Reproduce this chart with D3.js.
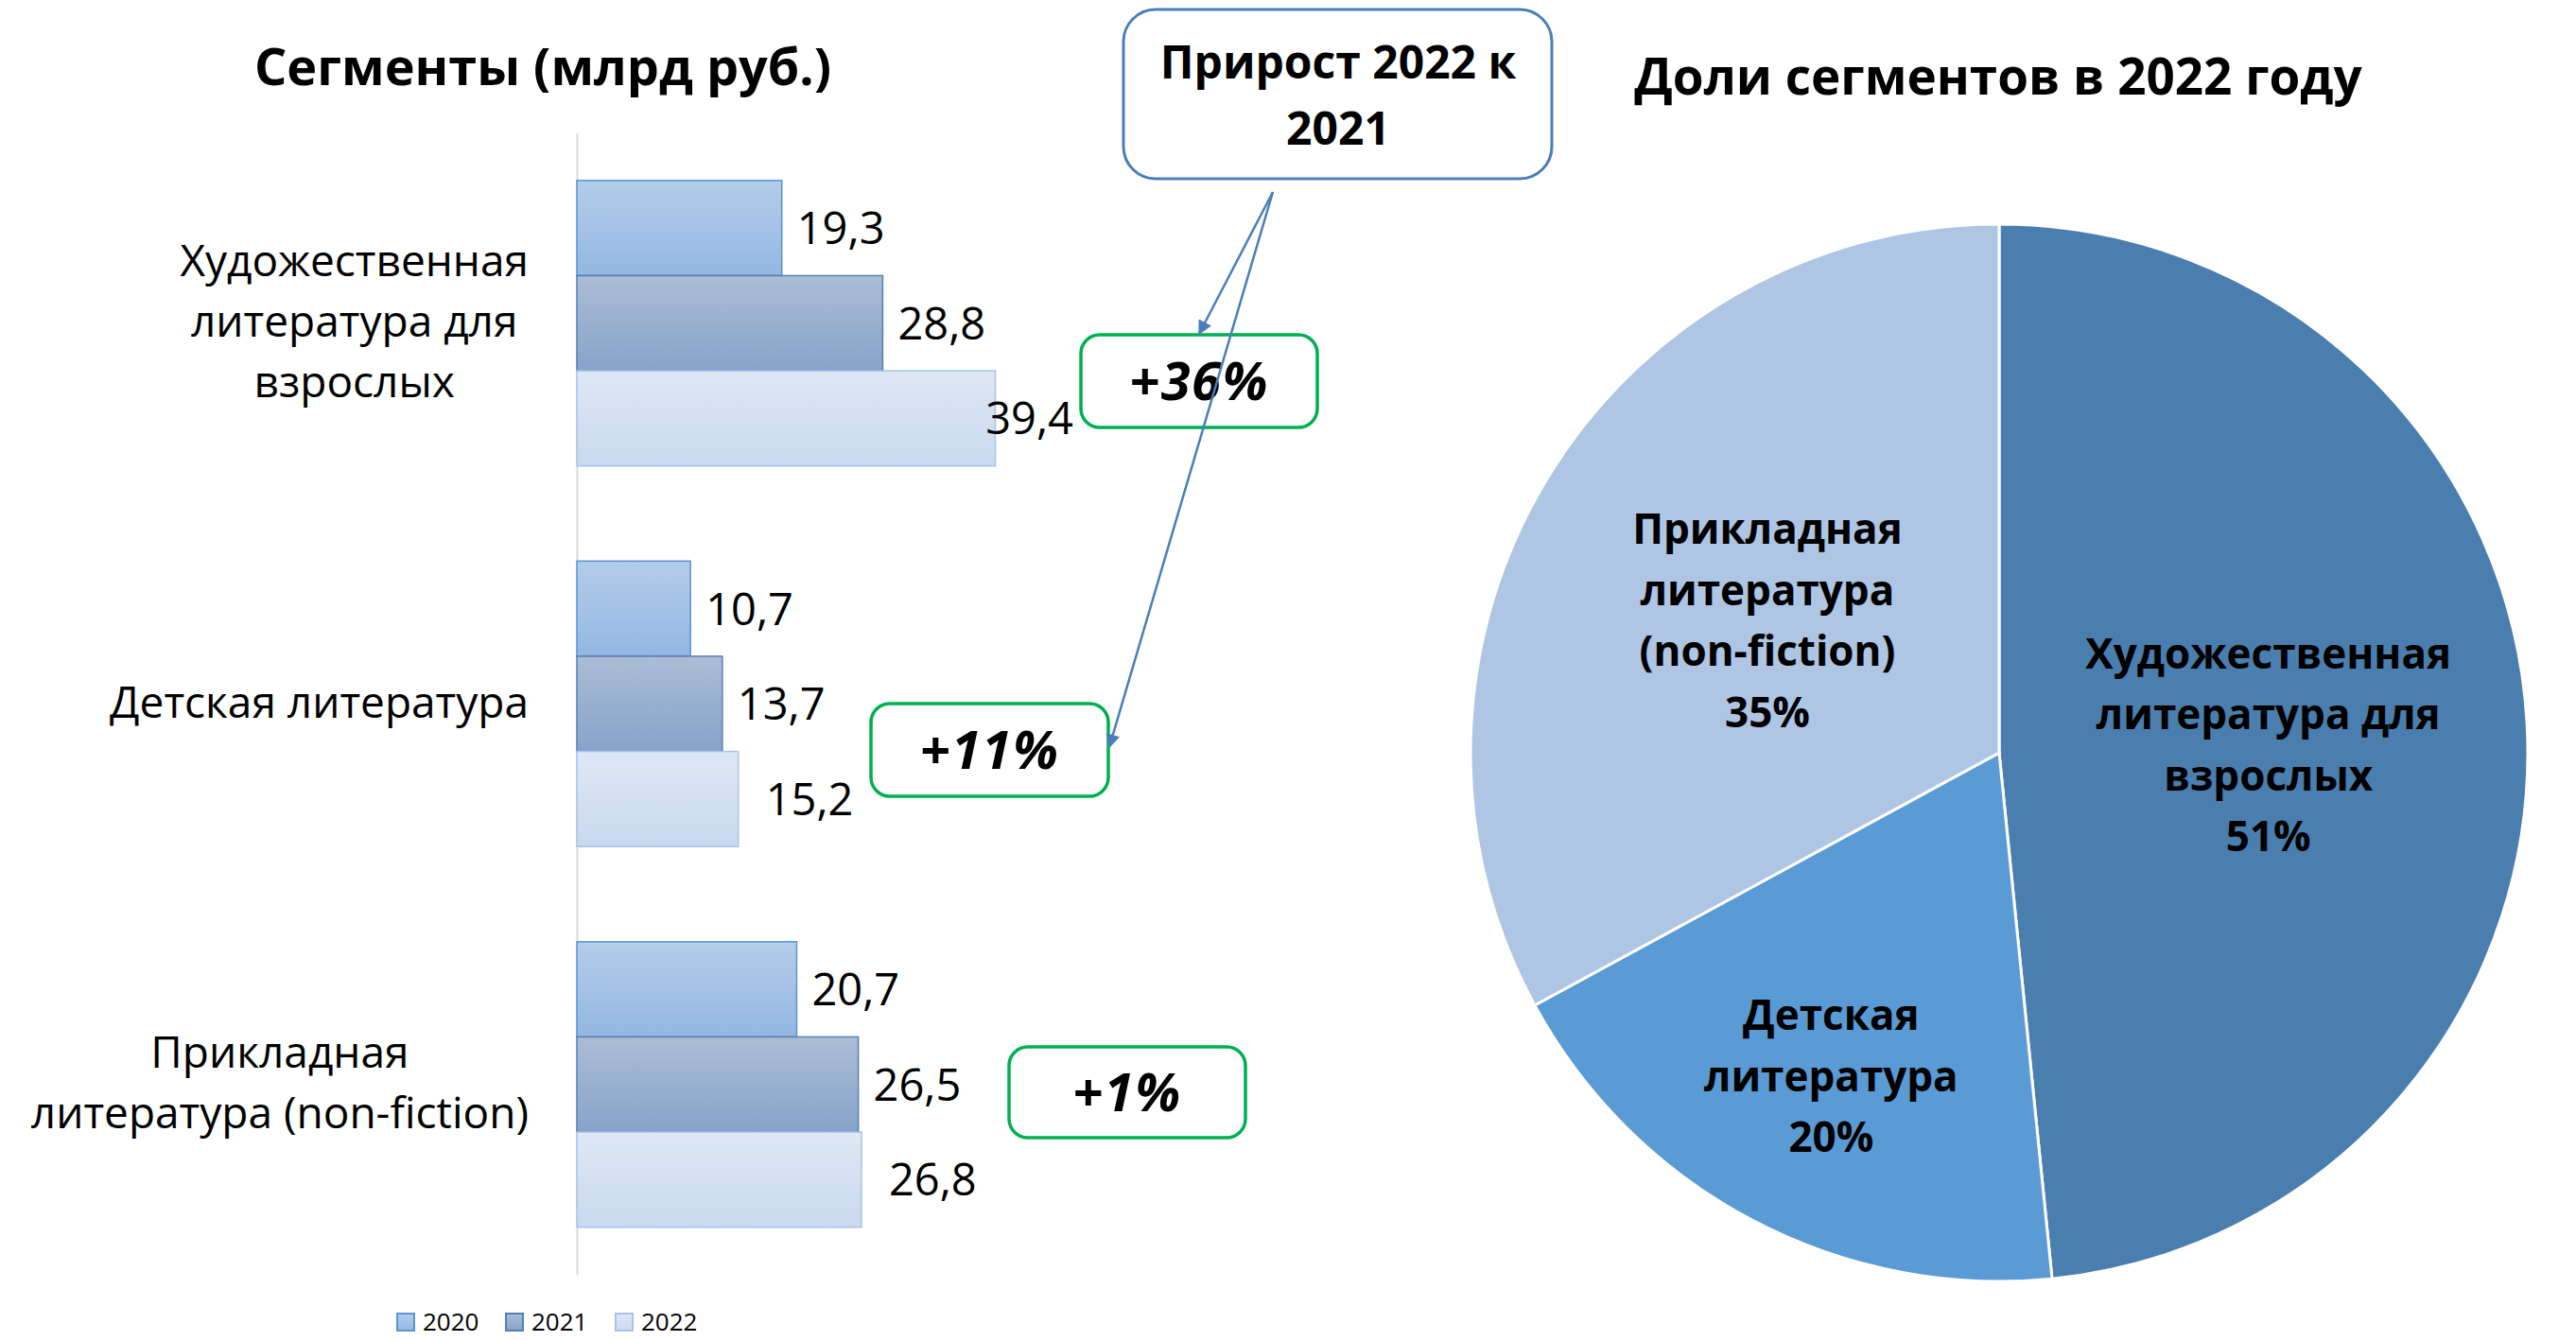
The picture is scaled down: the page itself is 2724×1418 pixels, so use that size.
<!DOCTYPE html>
<html>
<head>
<meta charset="utf-8">
<script src="https://cdn.jsdelivr.net/npm/d3@7"></script>
<style>
  html, body { margin: 0; padding: 0; background: #fff; }
  svg { display: block; }
</style>
</head>
<body>
<svg id="chart" width="2724" height="1418"></svg>
<script>
// ---------------- DATA ----------------
const categories = ["Художественная литература для взрослых", "Детская литература", "Прикладная литература (non-fiction)"];
const categoryLines = [["Художественная", "литература для", "взрослых"], ["Детская литература"], ["Прикладная", "литература (non-fiction)"]];
const years = ["2020", "2021", "2022"];
const values2020 = [19.3, 10.7, 20.7];
const values2021 = [28.8, 13.7, 26.5];
const values2022 = [39.4, 15.2, 26.8];
const growthLabels = ["+36%", "+11%", "+1%"];
const pieSegments = ["Художественная литература для взрослых", "Детская литература", "Прикладная литература (non-fiction)"];
const pieValues = [39.4, 15.2, 26.8];
const pieLabelLines = [["Художественная", "литература для", "взрослых"], ["Детская", "литература"], ["Прикладная", "литература", "(non-fiction)"]];
const pieShareLabels = ["51%", "20%", "35%"];
const barTitle = "Сегменты (млрд руб.)";
const pieTitle = "Доли сегментов в 2022 году";
const calloutLines = ["Прирост 2022 к", "2021"];

// ---------------- LAYOUT / STYLE ----------------
const FONT = "'Open Sans', 'Noto Sans', sans-serif";
const seriesValues = [values2020, values2021, values2022];
const seriesStyle = [
  { top: "#B3CDEA", bottom: "#93B7E2", stroke: "#5B93D3", labelGap: 16 },
  { top: "#ABBDD6", bottom: "#86A3C9", stroke: "#5680B4", labelGap: 16 },
  { top: "#DEE7F4", bottom: "#C9D9EF", stroke: "#A8C3E6", labelGap: 29 }
];
const pieColors = ["#4A7EAE", "#5B9BD5", "#AEC6E4"];

const svg = d3.select("#chart");
const defs = svg.append("defs");

seriesStyle.forEach((s, i) => {
  const g = defs.append("linearGradient").attr("id", "grad" + i)
    .attr("x1", 0).attr("y1", 0).attr("x2", 0).attr("y2", 1);
  g.append("stop").attr("offset", "0%").attr("stop-color", s.top);
  g.append("stop").attr("offset", "100%").attr("stop-color", s.bottom);
});

defs.append("marker").attr("id", "arrowHead")
  .attr("viewBox", "0 0 10 10").attr("refX", 9).attr("refY", 5)
  .attr("markerWidth", 6.5).attr("markerHeight", 6)
  .attr("markerUnits", "strokeWidth")
  .attr("orient", "auto")
  .append("path").attr("d", "M0,0 L10,5 L0,10 Z").attr("fill", "#4A7EBB");

// ---------------- BAR CHART ----------------
const x = d3.scaleLinear().domain([0, 40]).range([610, 610 + 40 * 11.23]);
const y = d3.scaleBand().domain(categories).range([140.5, 1348]).paddingInner(0.25).paddingOuter(0.125);
const ySub = d3.scaleBand().domain(years).range([0, y.bandwidth()]);

// axis line (category axis)
const yAxis = d3.axisLeft(y).tickSize(0).tickFormat("");
const axisG = svg.append("g").attr("transform", `translate(${x(0)},0)`).call(yAxis);
axisG.select(".domain").attr("stroke", "#D9D9D9").attr("stroke-width", 2);

// title
svg.append("text").attr("x", 574).attr("y", 90)
  .attr("text-anchor", "middle").attr("font-family", FONT).attr("font-weight", 700)
  .attr("font-size", 54).attr("fill", "#000").text(barTitle);

// growth annotation boxes (layout)
const growthBoxes = [
  { x: 1143, y: 354, w: 250, h: 98 },
  { x: 921, y: 744, w: 251, h: 98 },
  { x: 1067, y: 1107, w: 250, h: 96 }
];

const groups = svg.append("g").selectAll("g.cat").data(categories).join("g")
  .attr("class", "cat").attr("transform", d => `translate(0,${y(d)})`);

years.forEach((yr, si) => {
  groups.append("rect")
    .attr("x", x(0))
    .attr("y", ySub(yr))
    .attr("width", (d, ci) => x(seriesValues[si][ci]) - x(0))
    .attr("height", ySub.bandwidth())
    .attr("fill", `url(#grad${si})`)
    .attr("stroke", seriesStyle[si].stroke)
    .attr("stroke-width", 1.5);
  groups.append("text")
    .attr("y", ySub(yr) + ySub.bandwidth() / 2)
    .attr("dy", "0.36em")
    .attr("font-family", FONT).attr("font-size", 47).attr("fill", "#000")
    .text((d, ci) => String(seriesValues[si][ci]).replace(".", ","))
    .each(function (d, ci) {
      const w = this.getComputedTextLength();
      let lx = x(seriesValues[si][ci]) + seriesStyle[si].labelGap;
      const b = growthBoxes[ci];
      const top = y(d) + ySub(yr), bot = top + ySub.bandwidth();
      if (bot > b.y && top < b.y + b.h && lx + w > b.x - 6 && lx < b.x + b.w) {
        lx = b.x - 8 - w;
      }
      d3.select(this).attr("x", lx);
    });
});

// category labels (multi-line, centered block, right aligned)
const labelRight = 559;
const lineH = 64;
categories.forEach((c, ci) => {
  const lines = categoryLines[ci];
  const g = svg.append("g");
  const texts = g.selectAll("text").data(lines).join("text")
    .attr("font-family", FONT).attr("font-size", 46).attr("fill", "#000")
    .attr("text-anchor", "middle")
    .attr("y", (d, li) => y(c) + y.bandwidth() / 2 + (li - (lines.length - 1) / 2) * lineH - 2)
    .attr("dy", "0.36em")
    .text(d => d);
  let maxW = 0;
  texts.each(function () { maxW = Math.max(maxW, this.getComputedTextLength()); });
  texts.attr("x", labelRight - maxW / 2);
});

// legend
const legendX = [420, 535, 651];
const legend = svg.append("g");
years.forEach((yr, si) => {
  legend.append("rect").attr("x", legendX[si]).attr("y", 1389).attr("width", 18).attr("height", 18)
    .attr("fill", `url(#grad${si})`).attr("stroke", seriesStyle[si].stroke).attr("stroke-width", 2);
  legend.append("text").attr("x", legendX[si] + 27).attr("y", 1398).attr("dy", "0.36em")
    .attr("font-family", FONT).attr("font-size", 26).attr("fill", "#000").text(yr);
});

growthLabels.forEach((lab, i) => {
  const b = growthBoxes[i];
  svg.append("rect").attr("x", b.x).attr("y", b.y).attr("width", b.w).attr("height", b.h)
    .attr("rx", 20).attr("fill", "#fff").attr("stroke", "#00B050").attr("stroke-width", 3.5);
  svg.append("text").attr("x", b.x + b.w / 2).attr("y", b.y + b.h / 2).attr("dy", "0.36em")
    .attr("text-anchor", "middle").attr("font-family", FONT).attr("font-weight", 700)
    .attr("font-style", "italic").attr("font-size", 56).attr("letter-spacing", 1.5)
    .attr("fill", "#000").text(lab);
});

// callout box
svg.append("rect").attr("x", 1188).attr("y", 10).attr("width", 453).attr("height", 179)
  .attr("rx", 34).attr("fill", "#fff").attr("stroke", "#4A7EBB").attr("stroke-width", 3);
calloutLines.forEach((l, i) => {
  svg.append("text").attr("x", 1415).attr("y", 83 + i * 70)
    .attr("text-anchor", "middle").attr("font-family", FONT).attr("font-weight", 700)
    .attr("font-size", 48).attr("fill", "#000").text(l);
});
// arrows
const arrowFrom = [1346, 203];
const arrowTo = [[1268, 353], [1173, 790]];
arrowTo.forEach(t => {
  svg.append("line").attr("x1", arrowFrom[0]).attr("y1", arrowFrom[1])
    .attr("x2", t[0]).attr("y2", t[1])
    .attr("stroke", "#4A7EBB").attr("stroke-width", 2.5)
    .attr("marker-end", "url(#arrowHead)");
});

// ---------------- PIE CHART ----------------
const cx = 2114, cy = 796, R = 559;
svg.append("text").attr("x", 2113).attr("y", 100)
  .attr("text-anchor", "middle").attr("font-family", FONT).attr("font-weight", 700)
  .attr("font-size", 53).attr("fill", "#000").text(pieTitle);

const pie = d3.pie().sort(null).value(d => d)(pieValues);
const arc = d3.arc().innerRadius(0).outerRadius(R);
const pieG = svg.append("g").attr("transform", `translate(${cx},${cy})`);
pieG.selectAll("path").data(pie).join("path")
  .attr("d", arc)
  .attr("fill", (d, i) => pieColors[i])
  .attr("stroke", "#fff").attr("stroke-width", 3);

pie.forEach((p, i) => {
  const span = p.endAngle - p.startAngle;
  const rr = span < Math.PI / 2 ? R * 0.68 : R * 0.51;
  const labArc = d3.arc().innerRadius(rr).outerRadius(rr);
  const [lx, ly] = labArc.centroid(p);
  const lines = pieLabelLines[i].concat([pieShareLabels[i]]);
  pieG.append("g").selectAll("text").data(lines).join("text")
    .attr("x", lx)
    .attr("y", (d, li) => ly + 6 + (li - (lines.length - 1) / 2) * 64.5)
    .attr("dy", "0.36em")
    .attr("text-anchor", "middle").attr("font-family", FONT).attr("font-weight", 700)
    .attr("font-size", 44).attr("fill", "#000").text(d => d);
});
</script>
</body>
</html>
